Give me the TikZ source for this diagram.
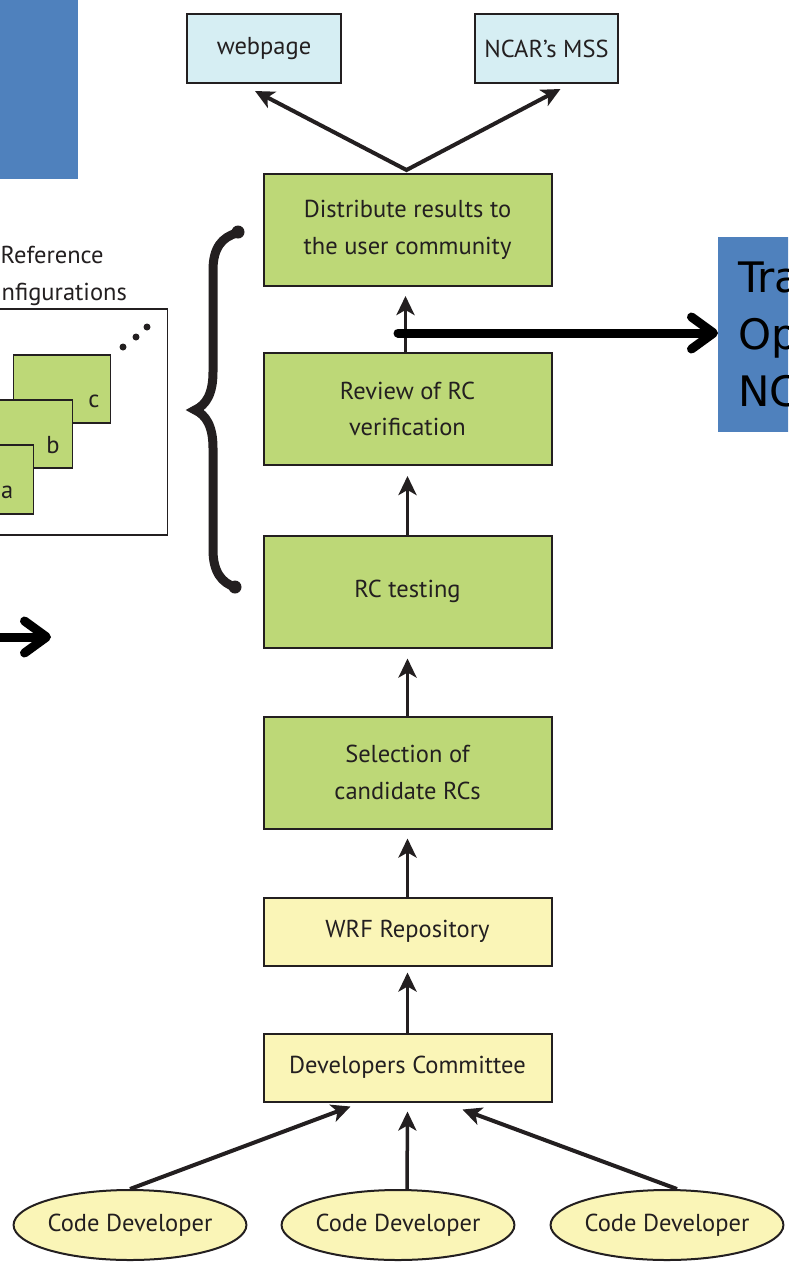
\documentclass[tikz,border=0pt]{standalone}
\usepackage{fontspec}
\setmainfont{PT Sans}
\newfontfamily\bluefont{DejaVu Sans}
\usetikzlibrary{arrows.meta,calc,shapes.geometric}
\definecolor{dark}{RGB}{35,31,32}
\definecolor{boxgreen}{RGB}{189,216,119}
\definecolor{boxblue}{RGB}{214,238,243}
\definecolor{boxyellow}{RGB}{250,245,183}
\definecolor{panelblue}{RGB}{79,129,189}
\begin{document}
\begin{tikzpicture}[x=1pt,y=-1pt,
  >={Stealth[length=19pt,width=18pt,inset=5pt]},
  base/.style={draw=dark, line width=2pt, inner sep=0pt, align=center, text=dark,
    font=\fontsize{24.5}{36.5}\selectfont},
  flow/.style={base, fill=boxgreen, minimum width=288pt, minimum height=112pt},
  repo/.style={base, fill=boxyellow, minimum width=288pt, minimum height=68pt},
  outbox/.style={base, fill=boxblue, minimum height=69pt},
  dev/.style={base, ellipse, fill=boxyellow, minimum width=230pt, minimum height=70pt},
  card/.style={draw=dark, line width=1.5pt, fill=boxgreen, inner sep=0pt, anchor=north east},
  lbl/.style={inner sep=0pt, text=dark, font=\fontsize{24.5}{36.5}\selectfont},
  arr/.style={draw=dark, line width=3.5pt, ->},
  bigarr/.style={draw=black, line width=9pt, line cap=round,
    -{Straight Barb[length=22pt,width=32pt,line cap=round,line join=round]}},
  bluebox/.style={fill=panelblue, inner sep=0pt}
]
\useasboundingbox (0,0) rectangle (788,1262);
\clip (0,0) rectangle (788,1262);

% left blue box
\node[bluebox, anchor=north east, minimum width=100pt, minimum height=199pt] (lbox) at (78,-20) {};

% reference configurations panel
\node[draw=dark, line width=1.5pt, inner sep=0pt, anchor=north east,
      minimum width=230pt, minimum height=226pt] (panel) at (168,308) {};
\node[lbl, anchor=base west] (ttl1) at (0.5,263) {Reference};
\node[lbl, anchor=base west] (ttl2) at (1.5,300) {nfigurations};
\node[card, minimum width=97pt, minimum height=68pt] (cc) at (111,354) {};
\node[lbl, anchor=base] (lc) at (94,407) {c};
\node[card, minimum width=103pt, minimum height=68pt] (cb) at (73,399) {};
\node[lbl, anchor=base] (lb) at (53,453) {b};
\node[card, minimum width=104pt, minimum height=69pt] (ca) at (34,444) {};
\node[lbl, anchor=base west] (lA) at (1,498) {a};
\fill[dark] (123,347) circle (3.5) (136,337) circle (3.5) (147,327) circle (3.5);

% brace
\draw[dark, line width=9pt, line cap=round]
  (237,233) .. controls (222,237) and (213,248) .. (213,270) -- (213,372)
  .. controls (213,394) and (206,405) .. (195,410)
  .. controls (206,415) and (213,426) .. (213,448) -- (213,550)
  .. controls (213,572) and (222,583) .. (235,587);
\fill[dark] (238,232) circle (6.5) (235,587) circle (6.5);

% main column
\node[outbox, minimum width=154pt] (web) at (264,48.5) {webpage};
\node[outbox, minimum width=143pt] (mss) at (546.5,48.5) {NCAR’s MSS};
\node[flow] (dist) at (407.5,230) {Distribute results to\\the user community};
\node[flow] (rev) at (407.5,409) {Review of RC\\verification};
\node[flow] (test) at (407.5,591.5) {RC testing};
\node[flow] (sel) at (407.5,772.5) {Selection of\\candidate RCs};
\node[repo] (wrf) at (407.5,931.5) {WRF Repository};
\node[repo] (dc) at (407.5,1067.5) {Developers Committee};
\node[dev] (cd1) at (130,1225) {Code Developer};
\node[dev] (cd2) at (398,1225) {Code Developer};
\node[dev] (cd3) at (667,1225) {Code Developer};

% right blue box
\node[bluebox, anchor=north west, minimum height=195pt, text width=120pt, inner xsep=20pt,
      align=left, font=\bluefont\fontsize{42}{57}\selectfont, text=black] (tra) at (718,237)
  {Tra\\Op\\NC};

% connectors
\coordinate (apex) at ($(dist.north)+(-1,-3)$);
\draw[draw=dark, line width=4pt, line join=miter, <->]
  ($(web.south)+(-9,7)$) -- (apex) -- ($(mss.south)+(14,5)$);
\draw[arr] ($(rev.north)+(-2,0)$) -- ($(dist.south)+(-2,9)$);
\draw[arr] (test.north) -- ($(rev.south)+(0,10)$);
\draw[arr] (sel.north) -- ($(test.south)+(0,10)$);
\draw[arr] (wrf.north) -- ($(sel.south)+(0,9)$);
\draw[arr] (dc.north) -- ($(wrf.south)+(0,6)$);
\draw[arr, line width=4pt] (cd1.north) -- ($(dc.south)+(-57,4)$);
\draw[arr] ($(cd2.north)+(9,0)$) -- ($(dc.south)+(0,9)$);
\draw[arr, line width=4pt] ($(cd3.north)+(10,0)$) -- ($(dc.south)+(55,7)$);

\coordinate (ts) at (398,333);
\draw[bigarr] (ts) -- (tra.west |- ts);
\coordinate (la) at (-20,637);
\coordinate (lb2) at (51,637);
\draw[bigarr] (la) -- (lb2);
\end{tikzpicture}
\end{document}
